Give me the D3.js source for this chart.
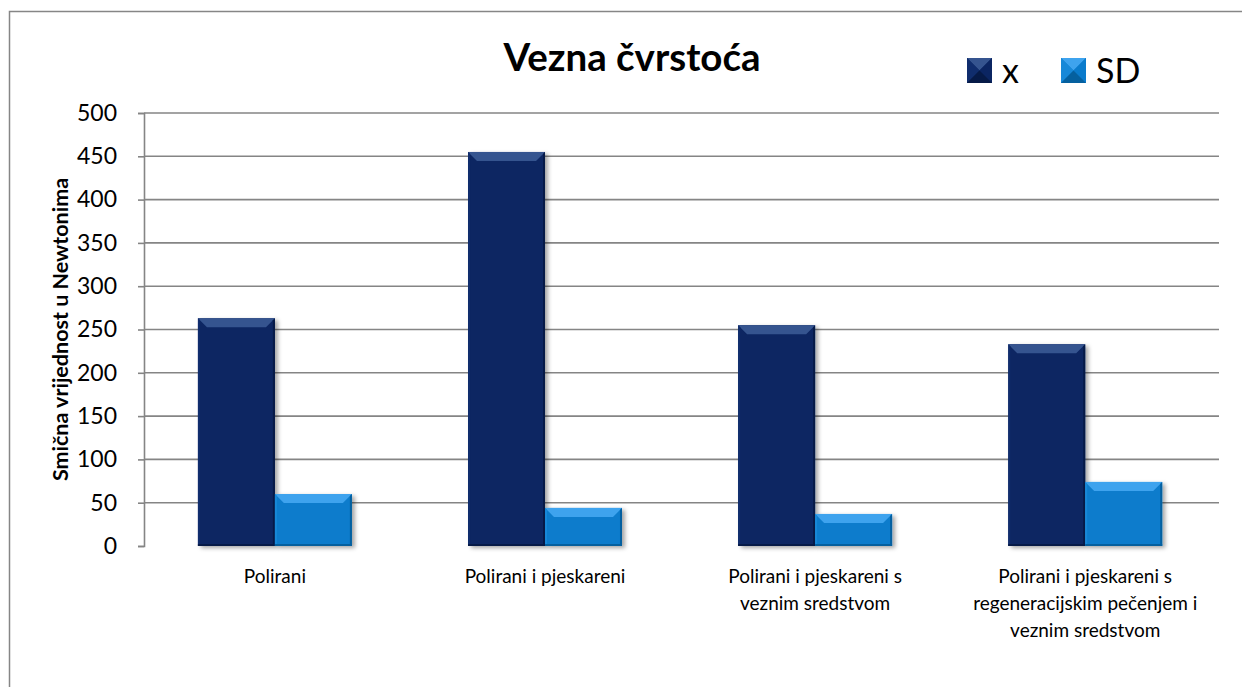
<!DOCTYPE html>
<html>
<head>
<meta charset="utf-8">
<script src="https://cdn.jsdelivr.net/npm/d3@7"></script>
<style>
  html, body { margin: 0; padding: 0; background: #ffffff; }
  svg { display: block; }
  text { font-family: Lato, "Open Sans", "Liberation Sans", sans-serif; fill: #000; }
</style>
</head>
<body>
<svg id="chart" width="1242" height="687"></svg>
<script>
// Chart data
const categories = [
  "Polirani",
  "Polirani i pjeskareni",
  "Polirani i pjeskareni s veznim sredstvom",
  "Polirani i pjeskareni s regeneracijskim pečenjem i veznim sredstvom"
];
const categoryLines = [
  ["Polirani"],
  ["Polirani i pjeskareni"],
  ["Polirani i pjeskareni s", "veznim sredstvom"],
  ["Polirani i pjeskareni s", "regeneracijskim pečenjem i", "veznim sredstvom"]
];
const seriesNames = ["x", "SD"];
const meanValues = [263, 455, 255, 233];
const sdValues = [60, 44, 37, 74];
const yTicks = [0, 50, 100, 150, 200, 250, 300, 350, 400, 450, 500];
const chartTitle = "Vezna čvrstoća";
const yAxisTitle = "Smična vrijednost u Newtonima";

const svg = d3.select("#chart");
const W = 1242, H = 687;
const plot = { left: 144, right: 1219, top: 113, bottom: 546 };

// Series styling: base, light (top bevel), side, dark edge
const palette = {
  x:  { base: "#0b2562", light: "#35548f", side: "#102d6d", dark: "#061a47" },
  SD: { base: "#0a7bcc", light: "#3ea3ee", side: "#1788d8", dark: "#05609f" }
};

const defs = svg.append("defs");
const shadow = defs.append("filter").attr("id", "barShadow")
  .attr("x", "-20%").attr("y", "-20%").attr("width", "150%").attr("height", "150%");
shadow.append("feDropShadow")
  .attr("dx", 3).attr("dy", 2).attr("stdDeviation", 2.2)
  .attr("flood-color", "#000").attr("flood-opacity", 0.35);

// Outer chart frame
svg.append("rect")
  .attr("x", 9.5).attr("y", 11.5)
  .attr("width", W + 20).attr("height", H + 20)
  .attr("fill", "#fff").attr("stroke", "#868686").attr("stroke-width", 1.5);

// Scales
const x0 = d3.scaleBand()
  .domain(categories)
  .range([plot.left, plot.right])
  .paddingInner(0.43)
  .paddingOuter(0.205)
  .align(0.487);
const x1 = d3.scaleBand()
  .domain(seriesNames)
  .range([0, x0.bandwidth()]);
const y = d3.scaleLinear()
  .domain([0, 500])
  .range([plot.bottom, plot.top]);

// Horizontal gridlines
svg.append("g")
  .selectAll("line")
  .data(yTicks.filter(d => d > 0))
  .join("line")
  .attr("x1", plot.left).attr("x2", plot.right)
  .attr("y1", d => y(d)).attr("y2", d => y(d))
  .attr("stroke", "#858585").attr("stroke-width", 1.6);

// Y axis with outward ticks
const yAxis = d3.axisLeft(y)
  .tickValues(yTicks)
  .tickSize(6)
  .tickPadding(21)
  .tickFormat(d3.format("d"));
const gy = svg.append("g")
  .attr("transform", `translate(${plot.left},0)`)
  .call(yAxis);
gy.select(".domain").attr("stroke", "#858585").attr("stroke-width", 1.6);
gy.selectAll(".tick line").attr("stroke", "#858585").attr("stroke-width", 1.6);
gy.selectAll(".tick text")
  .attr("font-size", 23)
  .attr("fill", "#000")
  .style("font-family", "Lato, 'Open Sans', sans-serif");

// Bars with a bevelled look
const rows = categories.map((c, i) => ({ cat: c, values: [
  { key: "x", value: meanValues[i] },
  { key: "SD", value: sdValues[i] }
]}));

const groups = svg.append("g")
  .selectAll("g")
  .data(rows)
  .join("g")
  .attr("transform", d => `translate(${x0(d.cat)},0)`);

const bars = groups.selectAll("g.bar")
  .data(d => d.values)
  .join("g")
  .attr("class", "bar");

bars.each(function(d) {
  const g = d3.select(this);
  const bx = x1(d.key), bw = x1.bandwidth();
  const by = y(d.value), bh = y(0) - y(d.value);
  const c = palette[d.key];
  const bev = Math.min(9, bh / 2);
  g.append("rect")
    .attr("x", bx).attr("y", by).attr("width", bw).attr("height", bh)
    .attr("fill", c.base).attr("filter", "url(#barShadow)");
  // top bevel
  g.append("polygon")
    .attr("points", [[bx, by], [bx + bw, by], [bx + bw - bev, by + bev], [bx + bev, by + bev]].map(p => p.join(",")).join(" "))
    .attr("fill", c.light);
  // left bevel
  g.append("polygon")
    .attr("points", [[bx, by], [bx + 2, by + 2], [bx + 2, by + bh - 2], [bx, by + bh]].map(p => p.join(",")).join(" "))
    .attr("fill", c.side);
  // right bevel
  g.append("polygon")
    .attr("points", [[bx + bw, by], [bx + bw - 2, by + 2], [bx + bw - 2, by + bh - 2], [bx + bw, by + bh]].map(p => p.join(",")).join(" "))
    .attr("fill", c.dark);
  // bottom edge
  g.append("rect")
    .attr("x", bx).attr("y", by + bh - 2).attr("width", bw).attr("height", 2)
    .attr("fill", c.dark);
});

// Category labels (wrapped)
const labels = svg.append("g")
  .selectAll("text")
  .data(categories.map((c, i) => ({ cat: c, lines: categoryLines[i] })))
  .join("text")
  .attr("text-anchor", "middle")
  .attr("font-size", 19)
  .attr("transform", d => `translate(${x0(d.cat) + x0.bandwidth() / 2},583)`);
labels.selectAll("tspan")
  .data(d => d.lines)
  .join("tspan")
  .attr("x", 0)
  .attr("dy", (d, i) => i === 0 ? 0 : 27)
  .text(d => d);

// Y axis title
svg.append("text")
  .attr("transform", `translate(68,${(plot.top + plot.bottom) / 2}) rotate(-90)`)
  .attr("text-anchor", "middle")
  .attr("font-size", 21.5)
  .attr("font-weight", "bold")
  .text(yAxisTitle);

// Chart title
svg.append("text")
  .attr("x", 632).attr("y", 71)
  .attr("text-anchor", "middle")
  .attr("font-size", 38.5)
  .attr("font-weight", "bold")
  .text(chartTitle);

// Legend
const legendItems = [
  { key: "x", sx: 967, tx: 1002 },
  { key: "SD", sx: 1061, tx: 1096 }
];
const lg = svg.append("g");
legendItems.forEach(it => {
  const c = palette[it.key];
  const s = 25, x = it.sx, yy = 58;
  const cx = x + s / 2, cy = yy + s / 2;
  const tri = (pts, fill) => lg.append("polygon")
    .attr("points", pts.map(p => p.join(",")).join(" ")).attr("fill", fill);
  lg.append("rect").attr("x", x).attr("y", yy).attr("width", s).attr("height", s).attr("fill", c.base);
  tri([[x, yy], [x + s, yy], [cx, cy]], c.light);
  tri([[x, yy], [cx, cy], [x, yy + s]], c.side);
  tri([[x + s, yy], [x + s, yy + s], [cx, cy]], c.base);
  tri([[x, yy + s], [x + s, yy + s], [cx, cy]], c.dark);
  lg.append("text")
    .attr("x", it.tx).attr("y", 83)
    .attr("font-size", 34)
    .text(it.key);
});
</script>
</body>
</html>
